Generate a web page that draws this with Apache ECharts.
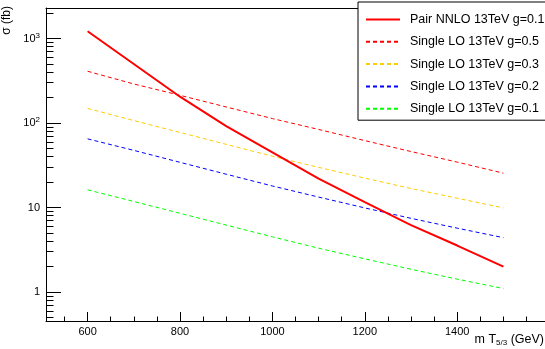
<!DOCTYPE html>
<html>
<head>
<meta charset="utf-8">
<script src="https://cdn.jsdelivr.net/npm/echarts@6/dist/echarts.min.js"></script>
<style>
  html, body { margin: 0; padding: 0; background: #fff; }
  #chart { width: 545px; height: 349px; }
</style>
</head>
<body>
<div id="chart"></div>
<script>
// values (sigma in fb)
const masses = [600, 700, 800, 900, 1000, 1100, 1200, 1300, 1400, 1500];
const pairNNLO = [1220, 500, 205, 92, 45, 22, 11.6, 6.2, 3.55, 2.0];
const singleG05 = [410, 290, 213, 155, 113, 84, 62, 46, 34.5, 25.5];
const singleG03 = [149, 107, 77.4, 56, 40.5, 29.9, 22.3, 16.8, 12.9, 9.9];
const singleG02 = [65, 47.5, 34.3, 24.8, 18.0, 13.3, 9.9, 7.45, 5.7, 4.4];
const singleG01 = [16.2, 11.8, 8.55, 6.2, 4.5, 3.3, 2.47, 1.86, 1.42, 1.1];

const xMajorTicks = [600, 800, 1000, 1200, 1400];
const xMinorTicks = [550, 650, 700, 750, 850, 900, 950, 1050, 1100, 1150,
  1250, 1300, 1350, 1450, 1500, 1550];
const yMajorTicks = [1, 10, 100, 1000];
const yMinorTicks = [0.5, 0.6, 0.7, 0.8, 0.9,
  2, 3, 4, 5, 6, 7, 8, 9,
  20, 30, 40, 50, 60, 70, 80, 90,
  200, 300, 400, 500, 600, 700, 800, 900, 2000];

const X_MIN = 510, X_MAX = 1590;
const Y_MIN = 0.454, Y_MAX = 2300;
const FONT = "'Liberation Sans', Arial, sans-serif";

const chart = echarts.init(document.getElementById("chart"));

const toPairs = (vals) => masses.map((m, i) => [m, vals[i]]);

function lineSeries(name, vals, color, width, dashed) {
  return {
    name: name,
    type: "line",
    data: toPairs(vals),
    symbol: "none",
    lineStyle: { color: color, width: width, type: dashed ? [4, 3] : "solid" },
    itemStyle: { color: color },
    emphasis: { disabled: true },
    z: dashed ? 2 : 3,
  };
}

const option = {
  backgroundColor: "#fff",
  animation: false,
  textStyle: { fontFamily: FONT },
  grid: { left: 46, right: 0, top: 8, bottom: 28 },
  legend: {
    orient: "vertical",
    left: 358,
    top: 2,
    padding: [11, 10, 5, 7],
    itemWidth: 34,
    itemHeight: 14,
    itemGap: 9.3,
    backgroundColor: "#fff",
    borderColor: "#000",
    borderWidth: 1,
    itemStyle: { opacity: 0 },
    textStyle: { fontSize: 12.5, color: "#000", fontFamily: FONT, padding: [0, 0, 0, 5] },
    data: ["Pair NNLO 13TeV g=0.1", "Single LO 13TeV g=0.5", "Single LO 13TeV g=0.3",
      "Single LO 13TeV g=0.2", "Single LO 13TeV g=0.1"],
    z: 10,
  },
  xAxis: [
    {
      type: "value",
      min: X_MIN,
      max: X_MAX,
      axisLine: { lineStyle: { color: "#000", width: 1 } },
      axisTick: { inside: true, length: 9, customValues: xMajorTicks, lineStyle: { color: "#000" } },
      axisLabel: {
        customValues: xMajorTicks, color: "#000", fontSize: 11, margin: 5, fontFamily: FONT,
        formatter: (v) => String(v),
      },
      splitLine: { show: false },
    },
    {
      type: "value",
      min: X_MIN,
      max: X_MAX,
      position: "bottom",
      axisLine: { show: false },
      axisTick: { inside: true, length: 4.5, customValues: xMinorTicks, lineStyle: { color: "#000" } },
      axisLabel: { show: false },
      splitLine: { show: false },
    },
    {
      type: "value",
      min: X_MIN,
      max: X_MAX,
      position: "top",
      axisLine: { lineStyle: { color: "#000", width: 1 } },
      axisTick: { show: false },
      axisLabel: { show: false },
      splitLine: { show: false },
    },
  ],
  yAxis: [
    {
      type: "log",
      logBase: 10,
      min: Y_MIN,
      max: Y_MAX,
      position: "left",
      axisLine: { show: true, lineStyle: { color: "#000", width: 1 } },
      axisTick: { show: true, inside: true, length: 15, customValues: yMajorTicks, lineStyle: { color: "#000" } },
      axisLabel: {
        customValues: yMajorTicks,
        color: "#000",
        fontSize: 11,
        margin: 6,
        fontFamily: FONT,
        formatter: (v) => {
          if (v >= 100) return "10{sup|" + Math.round(Math.log10(v)) + "}";
          return String(v);
        },
        rich: { sup: { fontSize: 8, padding: [0, 0, 6, 0], fontFamily: FONT, color: "#000" } },
      },
      splitLine: { show: false },
    },
    {
      type: "log",
      logBase: 10,
      min: Y_MIN,
      max: Y_MAX,
      position: "left",
      axisLine: { show: false },
      axisTick: { show: true, inside: true, length: 7.5, customValues: yMinorTicks, lineStyle: { color: "#000" } },
      axisLabel: { show: false },
      splitLine: { show: false },
    },
  ],
  series: [
    lineSeries("Pair NNLO 13TeV g=0.1", pairNNLO, "#ff0000", 2, false),
    lineSeries("Single LO 13TeV g=0.5", singleG05, "#ff0000", 1, true),
    lineSeries("Single LO 13TeV g=0.3", singleG03, "#ffcc00", 1, true),
    lineSeries("Single LO 13TeV g=0.2", singleG02, "#0000ff", 1, true),
    lineSeries("Single LO 13TeV g=0.1", singleG01, "#00ff00", 1, true),
  ],
  graphic: [
    {
      type: "text",
      x: 7,
      y: 6,
      rotation: Math.PI / 2,
      style: {
        text: "σ (fb)",
        font: "12px " + FONT,
        fill: "#000",
        align: "right",
        verticalAlign: "middle",
      },
    },
    {
      type: "text",
      right: 1,
      top: 333,
      style: {
        text: "m T{sub|5/3} (GeV)",
        font: "12.5px " + FONT,
        fill: "#000",
        rich: { sub: { fontSize: 8, padding: [6, 0, 0, 0], fontFamily: FONT } },
      },
    },
  ],
};

chart.setOption(option);
</script>
</body>
</html>
